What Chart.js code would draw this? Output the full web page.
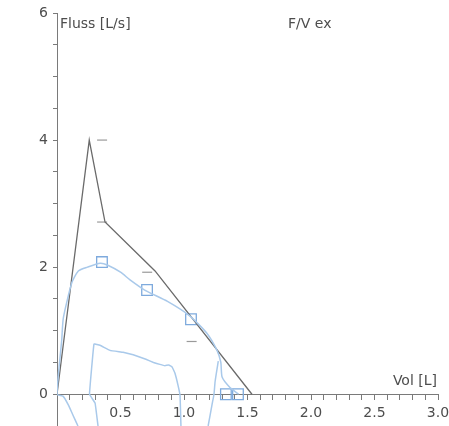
<!DOCTYPE html>
<html>
<head>
<meta charset="utf-8">
<title>F/V ex</title>
<script src="https://cdn.jsdelivr.net/npm/chart.js@4"></script>
<style>
  html, body { margin: 0; padding: 0; background: #fff; }
  #wrap { width: 449px; height: 426px; }
</style>
</head>
<body>
<div id="wrap"><canvas id="fv"></canvas></div>
<script>
// predicted (Soll) curve
const sollVol  = [0, 0.254, 0.378, 0.772, 1.535];
const sollFlow = [0, 4.0, 2.71, 1.94, 0];

// normal range marks
const markVol  = [0.355, 0.355, 0.71, 1.06];
const markFlow = [4.0, 2.71, 1.92, 0.83];

// first manoeuvre: inspiration up to origin, then expiration
const loopAVol  = [0.165, 0.126, 0.087, 0.047, 0, 0.037, 0.05, 0.116, 0.168, 0.24, 0.34, 0.40, 0.50, 0.575, 0.69, 0.87, 1.047, 1.18, 1.26, 1.29, 1.30, 1.36, 1.43];
const loopAFlow = [-0.5, -0.33, -0.16, -0.03, 0, 0.85, 1.2, 1.75, 1.94, 2.0, 2.06, 2.03, 1.92, 1.80, 1.64, 1.46, 1.23, 0.96, 0.69, 0.5, 0.27, 0.11, 0];

// return branch of first manoeuvre
const tailAVol  = [1.27, 1.245, 1.236, 1.22, 1.19];
const tailAFlow = [0.52, 0.2, 0, -0.17, -0.5];

// second manoeuvre
const loopBVol  = [0.323, 0.30, 0.256, 0.291, 0.339, 0.417, 0.52, 0.60, 0.70, 0.76, 0.81, 0.85, 0.88, 0.906, 0.929, 0.953, 0.969, 0.976];
const loopBFlow = [-0.5, -0.14, 0, 0.79, 0.77, 0.69, 0.66, 0.62, 0.55, 0.50, 0.47, 0.45, 0.46, 0.43, 0.33, 0.14, -0.02, -0.5];

// measured parameter boxes (PEF, MEF75, MEF50, MEF25, FVC)
const boxVol  = [0.354, 0.709, 1.055, 1.33, 1.425];
const boxFlow = [2.08, 1.64, 1.18, 0, 0];

const xLabels = [0.5, 1.0, 1.5, 2.0, 2.5, 3.0];
const yLabels = [0, 2, 4, 6];

function pts(xs, ys) {
  return xs.map((x, i) => ({ x: x, y: ys[i] }));
}

const FONT = '"DejaVu Sans", Verdana, sans-serif';
const TXT = '#4d4d4d';
const AXIS = '#7a7a7a';
const BLUE = '#a9c9ea';

const annotate = {
  id: 'annotate',
  afterDraw(chart) {
    const ctx = chart.ctx;
    ctx.save();
    ctx.font = '14px ' + FONT;
    ctx.fillStyle = TXT;
    ctx.textBaseline = 'middle';
    ctx.fillText('Fluss [L/s]', 60, 24);
    ctx.fillText('F/V ex', 288, 24);
    ctx.textAlign = 'right';
    ctx.fillText('Vol [L]', 437, 381);
    ctx.restore();
  }
};

const near = (v, list) => list.some(t => Math.abs(v - t) < 1e-6);

// let layout.padding alone decide the plot area
function noPad(s) {
  s.paddingTop = 0;
  s.paddingBottom = 0;
  s.paddingLeft = 0;
  s.paddingRight = 0;
}

new Chart(document.getElementById('fv'), {
  type: 'scatter',
  data: {
    datasets: [
      {
        data: pts(loopAVol, loopAFlow),
        showLine: true, borderColor: BLUE, borderWidth: 1.5,
        pointRadius: 0, tension: 0.2
      },
      {
        data: pts(tailAVol, tailAFlow),
        showLine: true, borderColor: BLUE, borderWidth: 1.5,
        pointRadius: 0, tension: 0.2
      },
      {
        data: pts(loopBVol, loopBFlow),
        showLine: true, borderColor: BLUE, borderWidth: 1.5,
        pointRadius: 0, tension: 0.05
      },
      {
        data: pts(sollVol, sollFlow),
        showLine: true, borderColor: '#6a6a6a', borderWidth: 1.3,
        pointRadius: 0, tension: 0
      },
      {
        data: pts(markVol, markFlow),
        showLine: false, pointStyle: 'line', pointRadius: 5,
        borderColor: '#9a9a9a', borderWidth: 1.2
      },
      {
        data: pts(boxVol, boxFlow),
        showLine: false, pointStyle: 'rect', pointRadius: 7.5,
        backgroundColor: 'rgba(0,0,0,0)', borderColor: '#7eaadd', borderWidth: 1.3
      }
    ]
  },
  options: {
    responsive: true,
    maintainAspectRatio: false,
    animation: false,
    layout: { autoPadding: false, padding: { top: 13, right: 11, bottom: 0, left: 0 } },
    plugins: { legend: { display: false }, tooltip: { enabled: false } },
    scales: {
      x: {
        type: 'linear', min: 0, max: 3,
        position: { y: 0 },
        afterFit: s => { s.height = 0; noPad(s); },
        grid: { drawOnChartArea: false, tickLength: 5, color: AXIS },
        border: { color: AXIS, width: 1 },
        ticks: {
          stepSize: 0.1, autoSkip: false, maxRotation: 0, padding: 6,
          color: TXT, font: { family: FONT, size: 14 },
          callback: v => near(v, xLabels) ? v.toFixed(1) : ''
        }
      },
      y: {
        type: 'linear', min: -0.5, max: 6,
        afterFit: s => { s.width = 57; noPad(s); },
        grid: { drawOnChartArea: false, tickLength: 4, color: AXIS },
        border: { color: AXIS, width: 1 },
        ticks: {
          stepSize: 0.5, autoSkip: false, padding: 5,
          color: TXT, font: { family: FONT, size: 14 },
          callback: v => near(v, yLabels) ? String(v) : ''
        }
      }
    }
  },
  plugins: [annotate]
});
</script>
</body>
</html>
